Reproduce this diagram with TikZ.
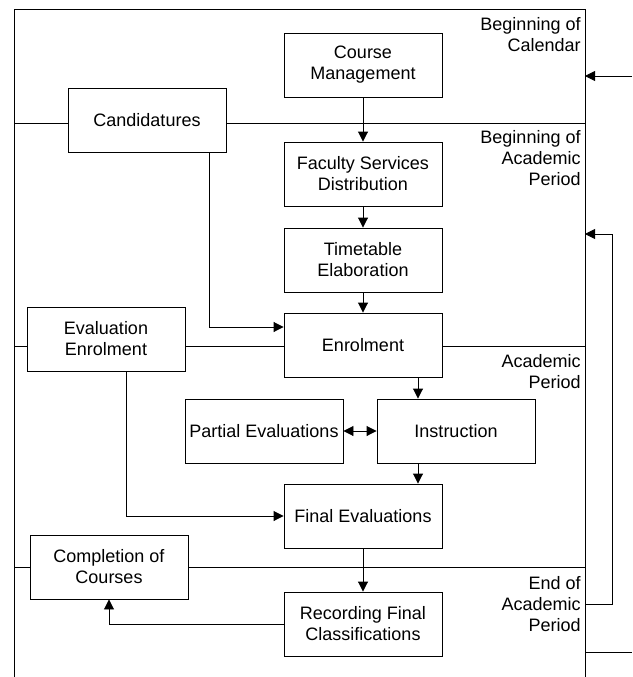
\documentclass[tikz,border=0pt]{standalone}
\usepackage{fontspec}
\setmainfont{Liberation Sans}
\usetikzlibrary{positioning,arrows.meta}

\begin{document}
\begin{tikzpicture}[x=1pt, y=-1pt, line width=0.9pt,
    >={Triangle[length=10pt,width=10pt]}, font=\fontsize{18}{21}\selectfont,
    box/.style={draw, fill=white, minimum width=158pt, minimum height=64pt,
      inner sep=0pt, align=center},
    lane/.style={anchor=east, align=right, inner sep=0pt}]
  \useasboundingbox (0,0) rectangle (632,677);
  % periods
  \draw (14,677) -- (14,9) -- (585,9) -- (585,677);
  \draw (14,123) -- (585,123);
  \draw (14,346) -- (585,346);
  \draw (14,567) -- (585,567);
  \node[lane] (cal) at (581,35) {Beginning of\\Calendar};
  \node[lane] (bap) at (581,158) {Beginning of\\Academic\\Period};
  \node[lane] (ap) at (581,372) {Academic\\Period};
  \node[lane] (eap) at (581,604) {End of\\Academic\\Period};
  % activities
  \node[box] (cm) at (363,65) {Course\\Management};
  \node[box] (cand) at (147,120) {Candidatures};
  \node[box] (fsd) at (363,174) {Faculty Services\\Distribution};
  \node[box] (tte) at (363,260) {Timetable\\Elaboration};
  \node[box] (enr) at (363,345) {Enrolment};
  \node[box] (evenr) at (106,339) {Evaluation\\Enrolment};
  \node[box] (part) at (264,431) {Partial Evaluations};
  \node[box] (instr) at (456,431) {Instruction};
  \node[box] (fin) at (363,516) {Final Evaluations};
  \node[box] (compl) at (109,567) {Completion of\\Courses};
  \node[box] (rec) at (363,624) {Recording Final\\Classifications};
  % flow
  \draw[->] (cm) -- (fsd);
  \draw[->] (fsd) -- (tte);
  \draw[->] (tte) -- (enr);
  \draw[->] ([xshift=-17pt]cand.south east) |- ([yshift=18pt]enr.west);
  \draw[->] ([xshift=-38pt]instr.north |- enr.south) -- ([xshift=-38pt]instr.north);
  \draw[<->] (part) -- (instr);
  \draw[->] ([xshift=-38pt]instr.south) -- ([xshift=-38pt]instr.south |- fin.north);
  \draw[->] ([xshift=20pt]evenr.south) |- (fin.west);
  \draw[->] (fin) -- (rec);
  \draw[->] (rec.west) -| (compl.south);
  % outside links
  \coordinate (calin) at (632,76);
  \coordinate (calend) at (585,76);
  \draw[->] (calin) -- (calend);
  \coordinate (eapout) at (585,604);
  \coordinate (bapin) at (585,234);
  \draw[->] (eapout) -- ++(27,0) |- (bapin);
  \coordinate (endout) at (585,652);
  \draw (endout) -- ++(47,0);
\end{tikzpicture}
\end{document}
